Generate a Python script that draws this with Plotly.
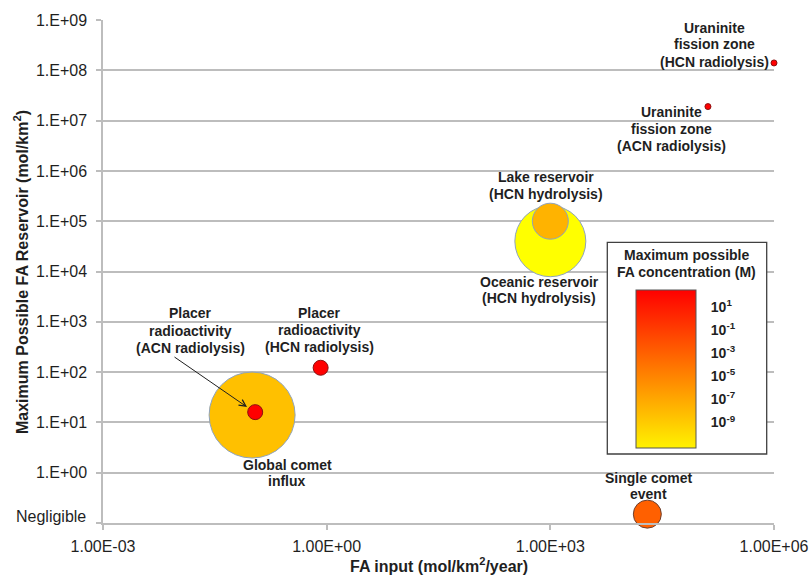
import plotly.graph_objects as go

# ---- data -------------------------------------------------------------
sources = [
    "Oceanic reservoir (HCN hydrolysis)",
    "Lake reservoir (HCN hydrolysis)",
    "Global comet influx",
    "Placer radioactivity (ACN radiolysis)",
    "Placer radioactivity (HCN radiolysis)",
    "Single comet event",
    "Uraninite fission zone (ACN radiolysis)",
    "Uraninite fission zone (HCN radiolysis)",
]
fa_input = [1.0e3, 1.0e3, 0.10, 0.11, 0.83, 2.0e4, 1.3e5, 1.0e6]          # mol/km2/year
fa_reservoir = [4.0e4, 1.0e5, 14, 16, 122, 0.15, 1.9e7, 1.4e8]             # mol/km2

x_tick_vals = [1e-3, 1e0, 1e3, 1e6]
x_tick_text = ["1.00E-03", "1.00E+00", "1.00E+03", "1.00E+06"]
y_tick_vals = [1e-1, 1e0, 1e1, 1e2, 1e3, 1e4, 1e5, 1e6, 1e7, 1e8, 1e9]
y_tick_text = ["", "1.E+00", "1.E+01", "1.E+02", "1.E+03", "1.E+04",
               "1.E+05", "1.E+06", "1.E+07", "1.E+08", "1.E+09"]

conc_exponents = [1, -1, -3, -5, -7, -9]      # colour key, log10 M

# ---- styling ------------------------------------------------------------
bubble_diam = [71, 36, 86, 15, 15, 28, 6, 6]
bubble_fill = ["#FFFF00", "#FFB300", "#FFC000", "#FF0000", "#FF0000",
               "#FF6000", "#FF0000", "#FF0000"]
bubble_edge = ["#8FA3BC", "#8FA3BC", "#8FA3BC", "#8B1010", "#8B1010",
               "#6B4030", "#8B1010", "#8B1010"]

FONT = "Liberation Sans, Arial, sans-serif"
TXT = "#1f1f1f"
GRID = "#BDBDBD"

W, H = 811, 575
X0, X1, Y0, Y1 = 103, 774, 20, 523   # plot area in pixels


def xp(px):
    return (px - X0) / (X1 - X0)


def yp(py):
    return (Y1 - py) / (Y1 - Y0)


fig = go.Figure()

fig.add_trace(go.Scatter(
    x=fa_input, y=fa_reservoir, mode="markers", text=sources,
    hovertemplate="%{text}<br>input %{x:.2e}<br>reservoir %{y:.2e}<extra></extra>",
    marker=dict(size=bubble_diam, color=bubble_fill,
                line=dict(color=bubble_edge, width=1), opacity=1),
    cliponaxis=False, showlegend=False,
))

# colour key for the maximum possible FA concentration
cb_top, cb_bot = 290, 448
fig.add_trace(go.Scatter(
    x=[None], y=[None], mode="markers", showlegend=False, hoverinfo="skip",
    marker=dict(
        color=[conc_exponents[0]],
        colorscale=[[0, "#FFF200"], [1, "#FF0000"]],
        cmin=-11.2, cmax=2.45, showscale=True,
        colorbar=dict(
            thickness=60, thicknessmode="pixels",
            len=(cb_bot - cb_top) / (Y1 - Y0), lenmode="fraction",
            x=xp(636), xanchor="left", xpad=0,
            y=yp(cb_bot), yanchor="bottom", ypad=0,
            outlinewidth=1, outlinecolor="#555555",
            tickvals=conc_exponents,
            ticktext=[f"<b>10<sup>{e}</sup></b>" for e in conc_exponents],
            ticks="outside", ticklen=12, tickcolor="rgba(0,0,0,0)",
            tickfont=dict(family=FONT, size=14, color=TXT),
            title=dict(text=""),
        ),
    ),
))

# ---- annotations -------------------------------------------------------
labels = [
    (714, [27.5, 44.3, 61.5], ["Uraninite", "fission zone", "(HCN radiolysis)"]),
    (671.5, [111.7, 128.5, 145.5], ["Uraninite", "fission zone", "(ACN radiolysis)"]),
    (545.5, [177.3, 193.5], ["Lake reservoir", "(HCN hydrolysis)"]),
    (539, [282.3, 298], ["Oceanic reservoir", "(HCN hydrolysis)"]),
    (319, [313.3, 330, 347.3], ["Placer", "radioactivity", "(HCN radiolysis)"]),
    (190, [313.3, 330.5, 347.8], ["Placer", "radioactivity", "(ACN radiolysis)"]),
    (287, [465, 481.3], ["Global comet", "influx"]),
    (648, [478.3, 493.5], ["Single comet", "event"]),
    (686, [255, 271.5], ["Maximum possible", "FA concentration (M)"]),
]
annotations = []
for cx, ys, lines in labels:
    for yy, line in zip(ys, lines):
        annotations.append(dict(
            x=xp(cx), y=yp(yy), xref="paper", yref="paper",
            text=f"<b>{line}</b>", showarrow=False,
            xanchor="center", yanchor="middle",
            font=dict(family=FONT, size=14, color=TXT),
        ))

# arrow to the placer ACN point
annotations.append(dict(
    x=xp(247), y=yp(407), xref="paper", yref="paper",
    ax=-74, ay=-51, text="", showarrow=True,
    arrowhead=5, arrowsize=1.3, arrowwidth=1, arrowcolor="#1f1f1f",
))

# "Negligible" label at the bottom of the reservoir axis
annotations.append(dict(
    x=xp(88), y=yp(516), xref="paper", yref="paper",
    text="Negligible", showarrow=False, xanchor="right", yanchor="middle",
    font=dict(family=FONT, size=16, color=TXT),
))

# axis titles
annotations.append(dict(
    x=xp(438.5), y=yp(565), xref="paper", yref="paper",
    text="<b>FA input (mol/km<sup>2</sup>/year)</b>", showarrow=False,
    xanchor="center", yanchor="middle",
    font=dict(family=FONT, size=16, color=TXT),
))
annotations.append(dict(
    x=xp(21), y=yp(272), xref="paper", yref="paper",
    text="<b>Maximum Possible FA Reservoir (mol/km<sup>2</sup>)</b>",
    showarrow=False, textangle=-90, xanchor="center", yanchor="middle",
    font=dict(family=FONT, size=16, color=TXT),
))

# white key box
shapes = [dict(
    type="rect", xref="paper", yref="paper",
    x0=xp(607.3), x1=xp(766.7), y0=yp(454), y1=yp(242.3),
    line=dict(color="#404040", width=1.3), fillcolor="white", layer="above",
)]

fig.update_layout(
    width=W, height=H,
    margin=dict(l=X0, r=W - X1, t=Y0, b=H - Y1, autoexpand=False),
    paper_bgcolor="white", plot_bgcolor="white",
    font=dict(family=FONT, size=16, color=TXT),
    annotations=annotations, shapes=shapes,
    xaxis=dict(
        type="log", range=[-3, 6], tickvals=x_tick_vals, ticktext=x_tick_text,
        showgrid=False, zeroline=False, showline=True, linecolor=GRID,
        linewidth=1.5, ticks="outside", ticklen=5, tickcolor=GRID, tickwidth=1.5,
        tickfont=dict(family=FONT, size=16, color=TXT), ticklabelstandoff=3,
    ),
    yaxis=dict(
        type="log", range=[-1, 9], tickvals=y_tick_vals, ticktext=y_tick_text,
        showgrid=True, gridcolor=GRID, gridwidth=1.5, zeroline=False,
        showline=True, linecolor=GRID, linewidth=1.5,
        ticks="outside", ticklen=5, tickcolor=GRID, tickwidth=1.5,
        tickfont=dict(family=FONT, size=16, color=TXT), ticklabelstandoff=6,
    ),
)

fig.write_html("out.html")
